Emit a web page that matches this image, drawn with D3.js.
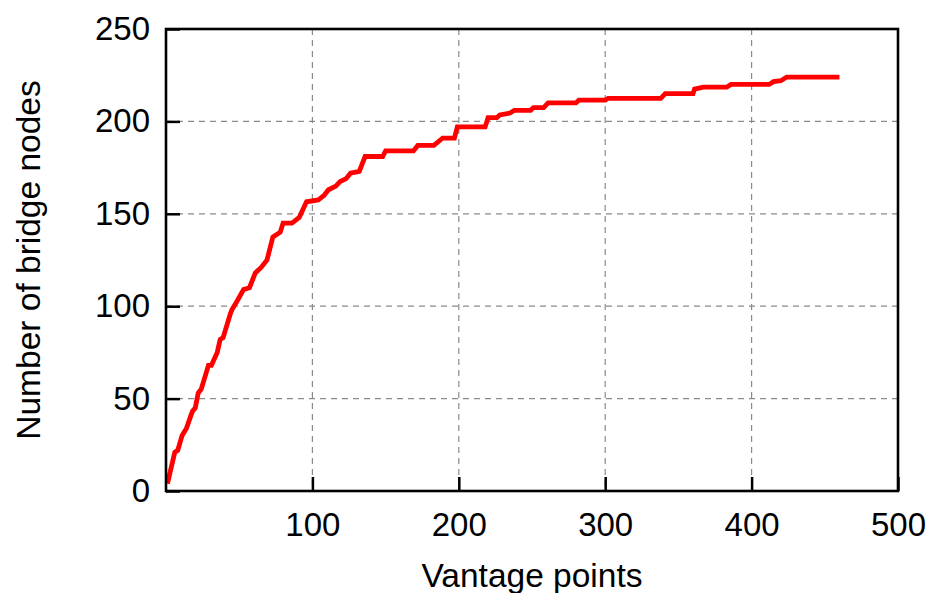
<!DOCTYPE html>
<html>
<head>
<meta charset="utf-8">
<script src="https://cdn.jsdelivr.net/npm/d3@7"></script>
<style>
  html, body { margin: 0; padding: 0; background: #fff; }
  svg { display: block; }
  text { font-family: "Liberation Sans", Arial, Helvetica, sans-serif; fill: #000; }
</style>
</head>
<body>
<svg id="chart" width="928" height="593"></svg>
<script>
// ---- Data ----
const vantagePoints = [1, 6, 8, 11, 14, 18, 20, 22, 24, 29, 31, 35, 37, 39, 44, 45, 48, 53, 57, 61, 65, 69, 73, 78, 80, 86, 91, 96, 104, 108, 111, 116, 119, 123, 126, 132, 136, 148, 150, 169, 172, 183, 189, 197, 199, 218, 220, 226, 228, 235, 238, 249, 251, 258, 261, 280, 282, 300, 302, 338, 341, 360, 361, 367, 383, 386, 412, 415, 420, 424, 460];
const bridgeNodes   = [4, 21, 22, 30, 34, 43, 45, 53, 55, 68, 68, 75, 82, 83, 96, 98, 102, 109, 110, 118, 121, 125, 137.5, 140, 145, 145, 148, 156.5, 157.5, 160, 163, 165, 167.5, 169, 172, 173, 181, 181, 184, 184, 187, 187, 191, 191, 197, 197, 202, 202, 203.5, 204.5, 206, 206, 207.5, 207.5, 210, 210, 211.5, 211.5, 212.5, 212.5, 215, 215, 217.5, 218.5, 218.5, 220, 220, 221.5, 222, 224, 224];
const xTickValues = [100, 200, 300, 400, 500];
const yTickValues = [0, 50, 100, 150, 200, 250];
const xGridValues = [100, 200, 300, 400];
const yGridValues = [50, 100, 150, 200];
const xTitle = "Vantage points";
const yTitle = "Number of bridge nodes";

(function () {
// ---- Layout ----
const svg = d3.select("#chart");
const pL = 166, pR = 898, pT = 29, pB = 491;
const x = d3.scaleLinear().domain([0, 500]).range([pL, pR]);
const y = d3.scaleLinear().domain([0, 250]).range([pB, pT]);
const tickFont = 33;
const titleFont = 33.5;

// Grid
const grid = svg.append("g")
  .attr("stroke", "#8a8a8a")
  .attr("stroke-width", 1.2)
  .attr("stroke-dasharray", "6,5");
grid.selectAll("line.gx").data(xGridValues).join("line")
  .attr("class", "gx")
  .attr("x1", d => x(d)).attr("x2", d => x(d))
  .attr("y1", pT).attr("y2", pB);
grid.selectAll("line.gy").data(yGridValues).join("line")
  .attr("class", "gy")
  .attr("x1", pL).attr("x2", pR)
  .attr("y1", d => y(d)).attr("y2", d => y(d));

// Axes with inward ticks
const xAxis = d3.axisBottom(x).tickValues(xTickValues).tickSizeInner(-14).tickSizeOuter(0).tickPadding(22);
const yAxis = d3.axisLeft(y).tickValues(yTickValues).tickSizeInner(-14).tickSizeOuter(0).tickPadding(16);

const gx = svg.append("g").attr("transform", `translate(0,${pB})`).call(xAxis);
const gy = svg.append("g").attr("transform", `translate(${pL},0)`).call(yAxis);
[gx, gy].forEach(g => {
  g.select(".domain").remove();
  g.selectAll(".tick line").attr("stroke", "#000").attr("stroke-width", 2.5);
  g.selectAll(".tick text")
    .style("font-family", '"Liberation Sans", Arial, Helvetica, sans-serif')
    .style("font-size", tickFont + "px")
    .attr("fill", "#000");
});

// Curve
const line = d3.line()
  .x((d, i) => x(vantagePoints[i]))
  .y((d, i) => y(bridgeNodes[i]));
svg.append("path")
  .datum(bridgeNodes)
  .attr("d", line)
  .attr("fill", "none")
  .attr("stroke", "#ff0000")
  .attr("stroke-width", 4.8)
  .attr("stroke-linejoin", "miter")
  .attr("stroke-linecap", "butt");

// Frame
svg.append("rect")
  .attr("x", pL).attr("y", pT)
  .attr("width", pR - pL).attr("height", pB - pT)
  .attr("fill", "none").attr("stroke", "#000").attr("stroke-width", 2.6);

// Titles
svg.append("text")
  .attr("x", (pL + pR) / 2).attr("y", 587)
  .attr("text-anchor", "middle")
  .style("font-size", titleFont + "px")
  .text(xTitle);
svg.append("text")
  .attr("transform", `translate(40,${(pT + pB) / 2}) rotate(-90)`)
  .attr("text-anchor", "middle")
  .style("font-size", titleFont + "px")
  .text(yTitle);
})();
</script>
</body>
</html>
